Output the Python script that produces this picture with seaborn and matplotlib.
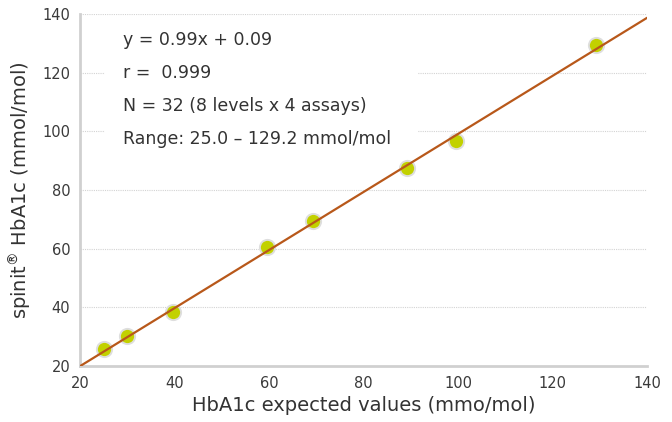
import matplotlib
matplotlib.use("Agg")
import pandas as pd
import seaborn as sns
import matplotlib.pyplot as plt
from matplotlib.patches import Rectangle

# data
expected = [25.0, 30.0, 39.6, 59.5, 69.2, 89.1, 99.6, 129.2]
measured = [25.8, 30.1, 38.3, 60.4, 69.3, 87.5, 96.8, 129.3]
slope = 0.99
intercept = 0.09
stats_lines = [
    "y = 0.99x + 0.09",
    "r =  0.999",
    "N = 32 (8 levels x 4 assays)",
    "Range: 25.0 \u2013 129.2 mmol/mol",
]
x_ticks = [20, 40, 60, 80, 100, 120, 140]
y_ticks = [20, 40, 60, 80, 100, 120, 140]

df = pd.DataFrame({"expected": expected, "measured": measured})

sns.set_style("white")
plt.rcParams["font.family"] = ["DejaVu Sans"]

fig = plt.figure(figsize=(6.72, 4.22), dpi=100)
ax = fig.add_axes([0.119, 0.133, 0.844, 0.834])

# dotted gridlines
for yv in y_ticks[1:]:
    ax.axhline(yv, color="#d3d3d3", lw=0.8, ls=(0, (1, 1)), zorder=0)

sns.scatterplot(data=df, x="expected", y="measured", ax=ax, s=120,
                color="#c2d100", edgecolor="#dedede", linewidth=1.4, zorder=3)
ax.axline((0, intercept), slope=slope, color="#b8581a", lw=1.6, zorder=4)

ax.set_xlim(20, 140)
ax.set_ylim(20, 140)
ax.set_xticks(x_ticks)
ax.set_yticks(y_ticks)
ax.tick_params(axis="both", length=0, labelsize=10.5, colors="#3a3a3a", pad=7)

for s in ["top", "right"]:
    ax.spines[s].set_visible(False)
for s in ["left", "bottom"]:
    ax.spines[s].set_color("#d0d0d0")
    ax.spines[s].set_linewidth(2)

ax.set_xlabel("HbA1c expected values (mmo/mol)", fontsize=14, color="#333333", labelpad=4)
ax.set_ylabel(r"spinit$^{\circledR}$ HbA1c (mmol/mol)", fontsize=14, color="#333333", labelpad=7)

# white box behind the statistics text
ax.add_patch(Rectangle((0.044, 0.585), 0.552, 0.39, transform=ax.transAxes,
                       facecolor="white", edgecolor="none", zorder=1))
ax.text(0.076, 0.952, "\n".join(stats_lines), transform=ax.transAxes,
        fontsize=12.5, color="#333333", va="top", ha="left", linespacing=2.07,
        zorder=2)

fig.savefig("out.png", dpi=100)
